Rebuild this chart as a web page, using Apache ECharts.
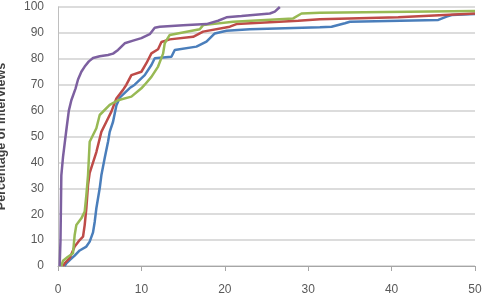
<!DOCTYPE html>
<html>
<head>
<meta charset="utf-8">
<script src="https://cdn.jsdelivr.net/npm/echarts@6/dist/echarts.min.js"></script>
<style>html,body{margin:0;padding:0;background:#fff}#c{width:489px;height:299px}</style>
</head>
<body>
<div id="c"></div>
<script>
var xTicks = [0, 10, 20, 30, 40, 50];
var yTicks = [0, 10, 20, 30, 40, 50, 60, 70, 80, 90, 100];
var yAxisName = 'Percentage of Interviews';

var blueX = [0.8,1.0,1.4,2.0,2.6,3.4,3.8,4.2,4.4,4.6,5.0,5.2,5.6,6.0,6.2,6.6,7.0,7.4,8.6,9.2,10.4,11.2,11.6,13.6,14,16.6,17.8,18.8,20.2,23,31.4,32.8,34.4,35,45.6,46.6,47.2,50];
var blueY = [0,1,2.3,4,6,7.5,9.4,13,17,22.3,30,35,41.7,48,51.8,55.7,62,65,68.7,70,73.7,77.6,80.2,80.8,83.4,84.7,86.6,89.8,90.8,91.4,92.2,92.4,93.7,94.3,95,96.3,96.9,97.3];

var redX = [0.6,0.8,1.4,2.0,2.6,3.0,3.2,3.4,3.6,3.8,4.6,5.2,5.8,6.4,7.0,7.8,8.2,8.8,10,10.6,11.2,12,12.4,13.4,16.2,17.4,20.6,21.4,24.8,28.8,31.4,40.8,50];
var redY = [0,1,3,7.5,10,11.3,15.8,22.3,31.3,36,44,51.8,55.7,59.6,64.7,68,70,73.7,75,78.3,82.1,83.7,86.5,87.5,88.5,90.5,92.4,93.4,94,94.7,95.3,96,97.5];

var greenX = [0.4,0.6,1.2,1.8,2.0,2.2,2.8,3.2,3.4,3.6,3.8,4.2,4.6,5.0,6.2,7.2,8.8,10,10.4,11.2,12,12.6,12.8,13.4,17,17.4,21,28.2,29.2,31.4,50];
var greenY = [0,2,3.6,4.9,12,15.8,18.4,21,27.4,35,48,50.6,53.2,58.3,62.2,64,65.4,68.6,70,73,77,82,86,89.2,91.4,93,94.3,95.6,97.5,97.8,98.5];

var purpleX = [0.2,0.3,0.4,0.6,1.0,1.3,1.6,2.1,2.4,2.8,3.2,3.7,4.2,5,6,6.6,7.2,8,9,10,11,11.6,12.2,15,17.8,19.2,20.2,22,25.4,26,26.6];
var purpleY = [0,10,35,42,52.5,60,64,68.5,72,75,77,79,80.3,81,81.5,82,83.4,86,87,88,89.5,92,92.4,93,93.4,94.7,96,96.5,97.5,98.2,100];

function pairs(xs, ys){ return xs.map(function(x,i){ return [x, ys[i]]; }); }

var chart = echarts.init(document.getElementById('c'), null, {renderer:'canvas'});
function mk(name, xs, ys, color){
  return {name:name, type:'line', data:pairs(xs,ys), showSymbol:false, symbol:'none',
    lineStyle:{color:color, width:2.5}, itemStyle:{color:color}, smooth:false, animation:false};
}
chart.setOption({
  animation:false,
  grid:{left:58, right:14, top:7, bottom:33, containLabel:false, outerBoundsMode:'none'},
  xAxis:{type:'value', min:xTicks[0], max:xTicks[xTicks.length-1], interval:10,
    axisLine:{show:true, lineStyle:{color:'#a6a6a6', width:1}},
    axisTick:{show:true, length:5, lineStyle:{color:'#a6a6a6'}},
    splitLine:{show:false},
    axisLabel:{color:'#595959', fontSize:12, margin:18, fontFamily:'Liberation Sans'}},
  yAxis:{type:'value', min:yTicks[0], max:yTicks[yTicks.length-1], interval:10,
    name:yAxisName, nameLocation:'middle', nameRotate:90, nameGap:50,
    nameTextStyle:{color:'#404040', fontSize:12.5, fontWeight:'bold', fontFamily:'Liberation Sans'},
    axisLine:{show:true, lineStyle:{color:'#bfbfbf', width:1}},
    axisTick:{show:false},
    splitLine:{show:true, lineStyle:{color:'#d0d0d0', width:1.5}},
    axisLabel:{color:'#595959', fontSize:12, margin:14, fontFamily:'Liberation Sans'}},
  series:[
    mk('Series 1', blueX, blueY, '#4a7ebb'),
    mk('Series 2', redX, redY, '#be4b48'),
    mk('Series 3', greenX, greenY, '#98b954'),
    mk('Series 4', purpleX, purpleY, '#7d60a0')
  ]
});
</script>
</body>
</html>
